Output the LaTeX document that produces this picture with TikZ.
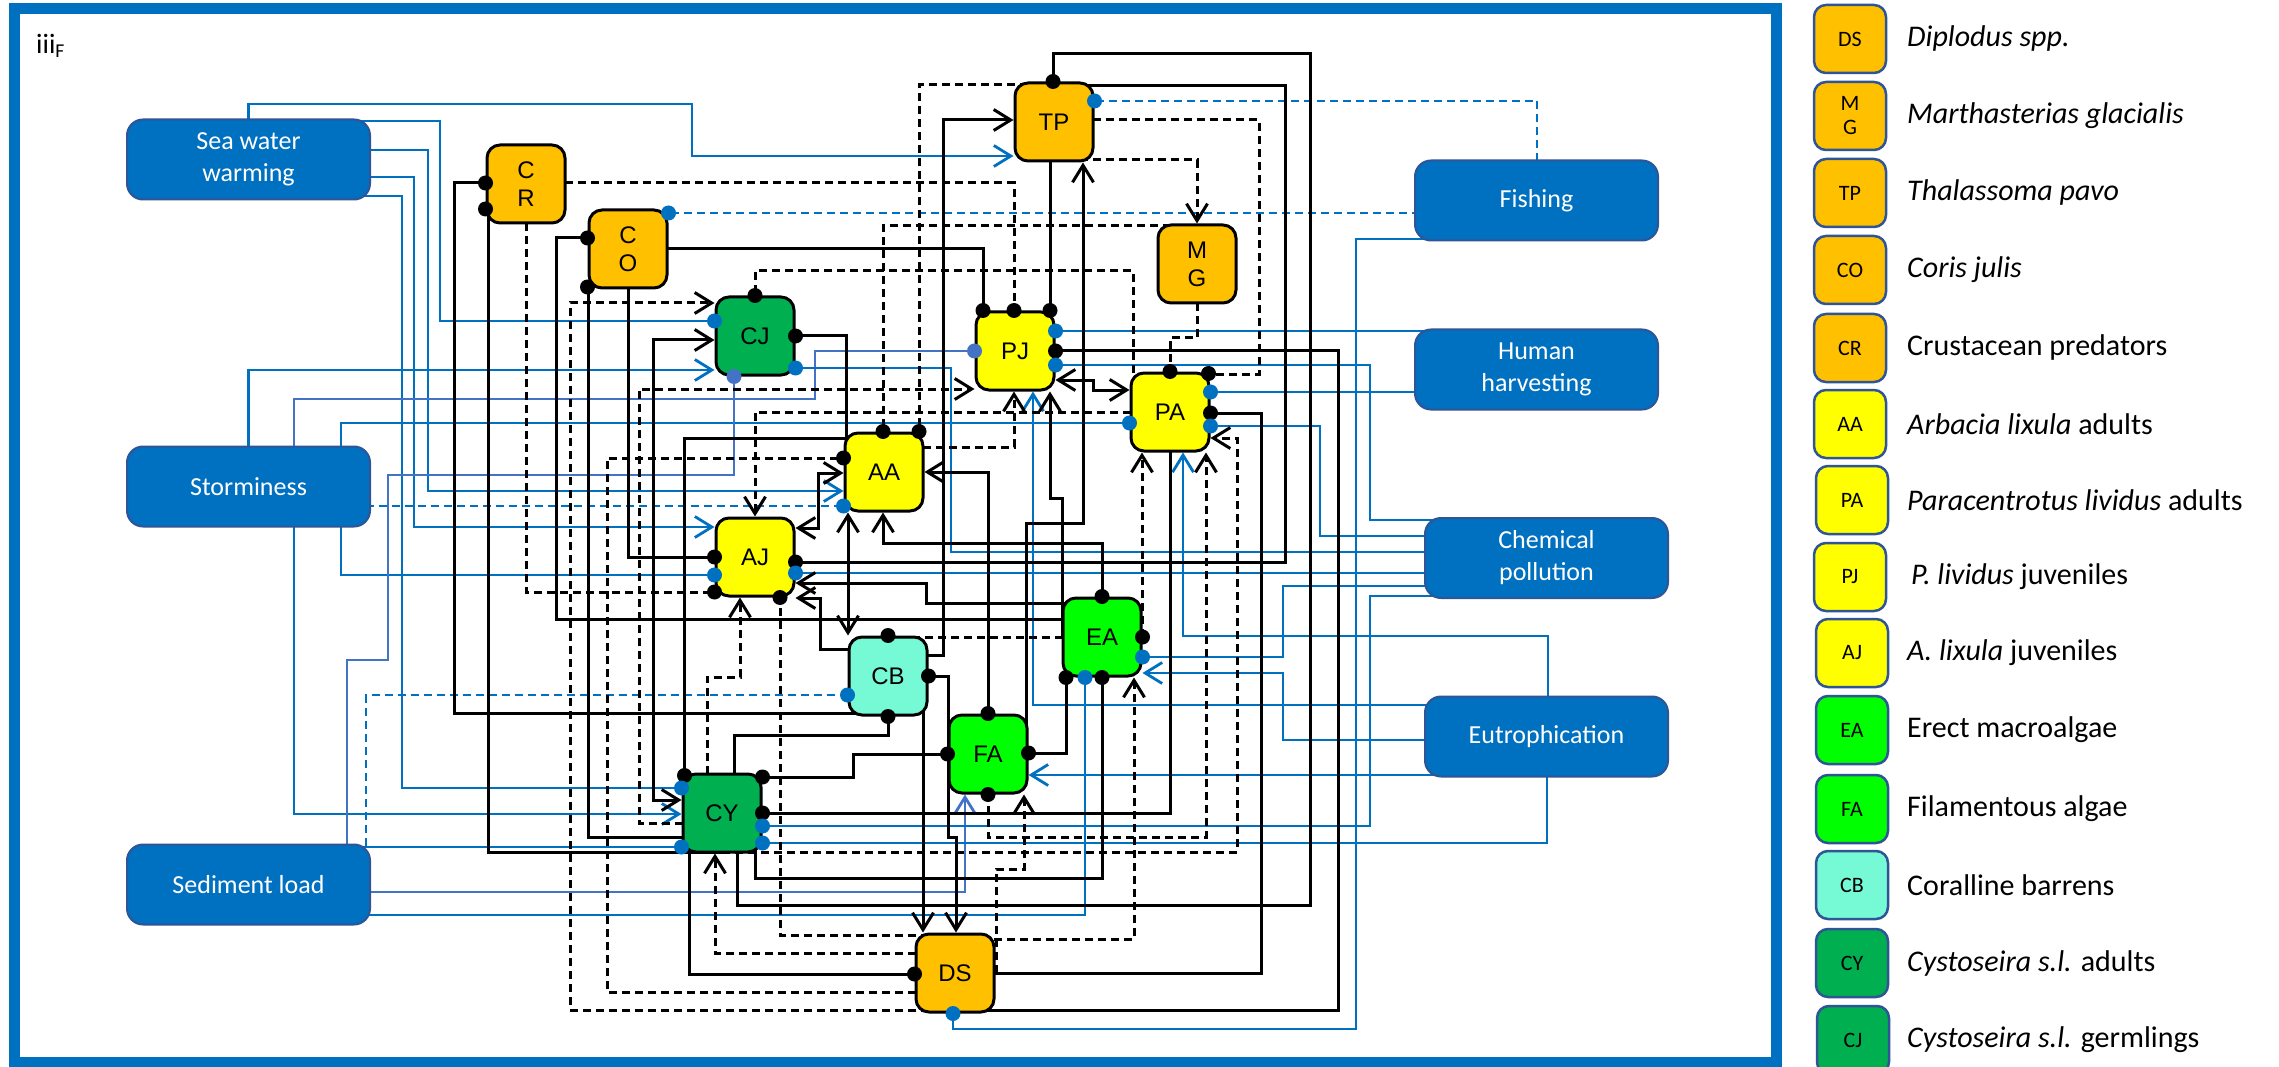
\documentclass[tikz,border=0pt]{standalone}
\usepackage{fontspec}
\setmainfont{Carlito}
\newfontfamily\arialf{Liberation Sans}
\usetikzlibrary{arrows.meta,calc}
\pgfdeclarelayer{back}
\pgfdeclarelayer{bg}
\pgfdeclarelayer{fg}
\pgfsetlayers{back,bg,main,fg}
\definecolor{blue0}{HTML}{0070C0}
\definecolor{lblue}{HTML}{4472C4}
\definecolor{bord}{HTML}{2F5597}
\definecolor{orng}{HTML}{FFC000}
\definecolor{yel}{HTML}{FFFF00}
\definecolor{lgrn}{HTML}{00FF00}
\definecolor{dgrn}{HTML}{00B050}
\definecolor{aqua}{HTML}{75FAD5}
\tikzset{
  sp/.style={draw=black, line width=3pt, rounded corners=13pt, minimum width=78pt,
    minimum height=78pt, inner sep=0pt, align=center, font=\arialf\fontsize{24}{28}\selectfont},
  drv/.style={draw=bord, fill=blue0, line width=2pt, rounded corners=16pt, minimum width=243pt,
    minimum height=80pt, align=center, text=white, font=\fontsize{26}{32}\selectfont},
  key/.style={draw=bord, line width=2.5pt, rounded corners=12pt, minimum width=72pt,
    minimum height=68pt, inner sep=0pt, align=center, font=\fontsize{22}{25}\selectfont},
  keytxt/.style={anchor=west, inner sep=0pt, font=\fontsize{30}{35}\selectfont},
  ln/.style={draw=black, line width=3pt},
  dl/.style={ln, dash pattern=on 8pt off 5pt},
  bl/.style={draw=blue0, line width=2.8pt},
  bd/.style={bl, dash pattern=on 8pt off 5pt},
  lb/.style={draw=lblue, line width=2.8pt},
  arr/.style={-{Straight Barb[length=17pt,width=21pt]}},
  arr2/.style={{Straight Barb[length=17pt,width=21pt]}-{Straight Barb[length=17pt,width=21pt]}},
}
\newcommand\kd[1]{\fill[black] #1 circle[radius=7.5pt];}
\newcommand\bdt[1]{\fill[blue0] #1 circle[radius=7.5pt];}
\newcommand\ldt[1]{\fill[lblue] #1 circle[radius=7.5pt];}
\begin{document}
\begin{tikzpicture}[x=1pt,y=-1pt]
\useasboundingbox (0,0) rectangle (2279,1067);
\begin{pgfonlayer}{back}
\fill[white] (0,0) rectangle (2279,1067);
\end{pgfonlayer}
% panel frame
\draw[blue0, line width=11pt] (14,8.5) rectangle (1776,1062);
\node[anchor=west, inner sep=0pt, font=\fontsize{28}{32}\selectfont] (lab) at (36,46) {iii\textsubscript{F}};

% species
\node[sp, fill=orng] (CR) at (526,184) {C\\R};
\node[sp, fill=orng] (CO) at (628,249) {C\\O};
\node[sp, fill=orng] (TP) at (1054,122) {TP};
\node[sp, fill=orng] (MG) at (1197,264) {M\\G};
\node[sp, fill=dgrn] (CJ) at (755,336) {CJ};
\node[sp, fill=yel] (PJ) at (1015,351) {PJ};
\node[sp, fill=yel] (PA) at (1170,412) {PA};
\node[sp, fill=yel] (AA) at (884,472) {AA};
\node[sp, fill=yel] (AJ) at (755,557) {AJ};
\node[sp, fill=lgrn] (EA) at (1102,637) {EA};
\node[sp, fill=aqua] (CB) at (888,676) {CB};
\node[sp, fill=lgrn] (FA) at (988,754) {FA};
\node[sp, fill=dgrn] (CY) at (722,813) {CY};
\node[sp, fill=orng] (DS) at (955,973) {DS};

% pressures
\node[drv] (SWW) at (248.5,159.5) {Sea water\\warming};
\node[drv] (ST) at (248.5,486.5) {Storminess};
\node[drv] (SL) at (248.5,884.5) {Sediment load};
\node[drv] (FI) at (1536.5,200.5) {Fishing};
\node[drv] (HH) at (1536.5,369.5) {Human\\harvesting};
\node[drv] (CP) at (1546.5,558) {Chemical\\pollution};
\node[drv] (EU) at (1546.5,736.5) {Eutrophication};

\begin{pgfonlayer}{bg}
% pressure links
\draw[bl,arr] (SWW.center) |- (692,104) |- (TP.west |- 0,156);
\draw[bl] (SWW.center |- 0,121) -| (440,321) -- (CJ.center |- 0,321);
\draw[bl,arr] (SWW.center |- 0,150) -| (428,491) -- (AA.west |- 0,491);
\draw[bl,arr] (SWW.center |- 0,177) -| (414,527) -- (AJ.west |- 0,527);
\draw[bl] (SWW.center |- 0,196) -| (402,788) -- (CY.center |- 0,788);
\draw[bl,arr] (ST.center) |- (CJ.west |- 0,370);
\draw[lb] (ST.center -| 294,0) |- (815,399) |- (PJ.center |- 0,351);
\draw[bl] (ST.center -| 341,0) |- (PA.center |- 0,423);
\draw[bd] (ST.center |- 0,506) -- (AA.center |- 0,506);
\draw[bl,arr] (ST.center -| 294,0) |- (CY.west |- 0,814);
\draw[bl] (ST.center -| 341,0) |- (AJ.center |- 0,575);
\draw[lb] (SL.center -| 347,0) |- (388,660) |- (734,475) -- (CJ.center -| 734,0);
\draw[bd] (SL.center -| 366,0) |- (CB.center |- 0,695);
\draw[bl] (SL.center |- 0,847) -- (CY.center |- 0,847);
\draw[lb,arr] (SL.center |- 0,892) -| (FA.south -| 965,0);
\draw[bl] (SL.center |- 0,915) -| (EA.center -| 1085,0);
\draw[bd] (FI.center -| 1537,0) |- (TP.center |- 0,101);
\draw[bd] (FI.center |- 0,213) -- (CO.center |- 0,213);
\draw[bl] (FI.center |- 0,239) -| (1356,1029) -| (DS.center -| 953,0);
\draw[bl] (HH.center |- 0,331) -- (PJ.center |- 0,331);
\draw[bl] (HH.center |- 0,392) -- (PA.center |- 0,392);
\draw[bl] (CP.center |- 0,520) -| (1370,365) -- (PJ.center |- 0,365);
\draw[bl] (CP.center |- 0,536) -| (1320,426) -- (PA.center |- 0,426);
\draw[bl] (CP.center |- 0,552) -| (951,368) -- (CJ.center |- 0,368);
\draw[bl] (CP.center |- 0,573) -- (AJ.center |- 0,573);
\draw[bl] (CP.center |- 0,586) -| (1283,657) -- (EA.center |- 0,657);
\draw[bl] (CP.center |- 0,596) -| (1370,826) -- (CY.center |- 0,826);
\draw[bl,arr] (EU.center -| 1548,0) |- (1183,636) -- (PA.south -| 1183,0);
\draw[bl,arr] (EU.center |- 0,705) -| (PJ.south -| 1033,0);
\draw[bl,arr] (EU.center |- 0,740) -| (1283,673) -- (EA.east |- 0,673);
\draw[bl,arr] (EU.center |- 0,775) -- (FA.east |- 0,775);
\draw[bl] (EU.center -| 1547,0) |- (CY.center |- 0,843);

% interactions between components
\draw[ln] (CR.center |- 0,183) -| (454,713) -- (CB.center |- 0,713);
\draw[ln] (CR.center |- 0,209) -| (488,852) -- (CY.center |- 0,852);
\draw[dl] (CR.center |- 0,183) -| (PJ.center -| 1014,0);
\draw[dl] (CR.center) |- (AJ.center |- 0,592);
\draw[ln] (CO.center |- 0,238) -| (556,619) -- (EA.center |- 0,619);
\draw[ln] (CO.center |- 0,287) -| (588,837) -- (CY.center |- 0,837);
\draw[ln] (CO.center |- 0,249) -| (PJ.center -| 983,0);
\draw[ln] (CO.center) |- (AJ.center |- 0,557);
\draw[dl,arr] (DS.center |- 0,1010) -| (570,303) -- (CJ.west |- 0,303);
\draw[ln,arr2] (CY.west |- 0,800) -| (653,340) -- (CJ.west |- 0,340);
\draw[dl,arr] (CY.center |- 0,823) -| (639,389) -- (PJ.west |- 0,389);
\draw[dl] (PA.center -| 1133,0) |- (755,271) -- (CJ.center);
\draw[dl,arr] (PA.center |- 0,412) -| (AJ.north);
\draw[dl] (DS.center |- 0,992) -| (607,458) -- (AA.center |- 0,458);
\draw[ln] (AA.center |- 0,438) -| (CY.center -| 684,0);
\draw[ln] (CJ.center |- 0,336) -| (AA.center -| 846,0);
\draw[ln,arr2] (AA.south -| 848,0) -- (CB.north -| 848,0);
\draw[ln,arr2] (AA.west |- 0,473) -| (818,528) -- (AJ.east |- 0,528);
\draw[dl,arr] (AA.center |- 0,447) -| (PJ.south -| 1014,0);
\draw[ln,arr] (FA.center) |- (AA.east |- 0,472);
\draw[ln,arr] (EA.center) |- (883,543) -- (AA.south -| 883,0);
\draw[dl] (MG.center |- 0,226) -| (AA.center -| 883,0);
\draw[dl] (TP.center |- 0,85) -| (AA.center -| 919,0);
\draw[ln] (TP.center -| 1050,0) -- (PJ.center -| 1050,0);
\draw[ln] (CY.center -| 737,0) |- (1310,905) |- (1053,54) -- (TP.center -| 1053,0);
\draw[ln] (TP.center |- 0,86) -| (1285,562) -- (AJ.center |- 0,562);
\draw[dl] (TP.center |- 0,120) -| (1259,374) -- (PA.center |- 0,374);
\draw[dl,arr] (TP.center |- 0,160) -| (MG.north);
\draw[ln,arr] (FA.center -| 1026,0) |- (1083,523) -- (TP.south -| 1083,0);
\draw[ln,arr] (CB.center |- 0,655) -| (943,120) -- (TP.west |- 0,120);
\draw[ln] (DS.center |- 0,1010) -| (1338,351) -- (PJ.center |- 0,351);
\draw[ln,arr2] (PJ.east |- 0,380) -| (1093,390) -- (PA.west |- 0,390);
\draw[ln,arr] (EA.center -| 1062,0) |- (1050,498) -- (PJ.south -| 1050,0);
\draw[ln] (DS.center |- 0,973) -| (1261,413) -- (PA.center |- 0,413);
\draw[dl] (MG.center) |- (1170,338) -- (PA.center);
\draw[dl,arr] (CY.center |- 0,852) -| (1237,438) -- (PA.east |- 0,438);
\draw[dl,arr] (EA.center -| 1142,0) -- (PA.south -| 1142,0);
\draw[dl,arr] (FA.center) |- (1206,837) -- (PA.south -| 1206,0);
\draw[ln] (PA.center) |- (CY.center |- 0,813);
\draw[ln,arr] (EA.center |- 0,603) -| (926,583) -- (AJ.east |- 0,583);
\draw[ln,arr] (CB.center |- 0,649) -| (820,598) -- (AJ.east |- 0,598);
\draw[dl,arr] (CY.center -| 707,0) |- (740,677) -- (AJ.south -| 740,0);
\draw[dl] (DS.center |- 0,935) -| (AJ.center -| 780,0);
\draw[dl] (EA.center |- 0,637) -| (CB.center);
\draw[ln,arr] (CB.center -| 923,0) -- (DS.north -| 923,0);
\draw[ln,arr] (CB.center |- 0,676) -| (948,837) -| (DS.north -| 956,0);
\draw[ln] (CY.center -| 734,0) |- (888,735) -- (CB.center);
\draw[ln] (FA.center |- 0,754) -| (853,777) -- (CY.center |- 0,777);
\draw[ln] (FA.center |- 0,753) -| (EA.center -| 1066,0);
\draw[ln] (CY.center -| 755,0) |- (1102,878) -- (EA.center);
\draw[dl,arr] (DS.center |- 0,939) -| (EA.south -| 1134,0);
\draw[dl,arr] (DS.center -| 996,0) |- (1024,869) -- (FA.south -| 1024,0);
\draw[ln] (CY.center -| 689,0) |- (DS.center |- 0,974);
\draw[dl,arr] (DS.center |- 0,953) -| (CY.south -| 715,0);
\end{pgfonlayer}

\begin{pgfonlayer}{fg}
% negative-effect ends
\kd{(CR.west |- 0,183)} \kd{(CR.west |- 0,209)}
\kd{(CO.west |- 0,238)} \kd{(CO.west |- 0,287)}
\kd{(PJ.north -| 983,0)} \kd{(PJ.north -| 1014,0)} \kd{(PJ.north -| 1050,0)}
\kd{(PJ.east |- 0,351)}
\kd{(AJ.west |- 0,557)} \kd{(AJ.west |- 0,592)} \kd{(AJ.east |- 0,562)} \kd{(AJ.south -| 780,0)}
\kd{(CJ.north)} \kd{(CJ.east |- 0,336)}
\kd{(AA.west |- 0,458)} \kd{(AA.north -| 883,0)} \kd{(AA.north -| 919,0)}
\kd{($(CY.north west)+(3,3)$)} \kd{(CY.east |- 0,777)} \kd{(CY.east |- 0,813)}
\kd{(TP.north -| 1053,0)}
\kd{(PA.north)} \kd{($(PA.north east)+(-2,2)$)} \kd{(PA.east |- 0,413)}
\kd{(EA.north)} \kd{(EA.east)} \kd{(EA.south -| 1066,0)} \kd{(EA.south)}
\kd{(FA.north)} \kd{(FA.west |- 0,754)} \kd{(FA.east |- 0,753)} \kd{(FA.south)}
\kd{(CB.north)} \kd{(CB.east |- 0,676)} \kd{(CB.south)}
\kd{(DS.west |- 0,974)}
\bdt{(CJ.west |- 0,321)} \ldt{(CJ.south -| 734,0)} \bdt{(CJ.east |- 0,368)}
\ldt{(PJ.west |- 0,351)} \bdt{(PJ.east |- 0,331)} \bdt{(PJ.east |- 0,365)}
\bdt{(PA.west |- 0,423)} \bdt{(PA.east |- 0,392)} \bdt{(PA.east |- 0,426)}
\bdt{(AA.west |- 0,506)}
\bdt{(AJ.west |- 0,575)} \bdt{(AJ.east |- 0,573)}
\bdt{(CY.west |- 0,788)} \bdt{(CY.west |- 0,847)} \bdt{(CY.east |- 0,826)} \bdt{(CY.east |- 0,843)}
\bdt{(CB.west |- 0,695)} \bdt{(EA.east |- 0,657)} \bdt{(EA.south -| 1085,0)}
\bdt{(TP.east |- 0,101)} \bdt{(CO.east |- 0,213)} \bdt{(DS.south -| 953,0)}
\end{pgfonlayer}

% key
\node[key, fill=orng] (kDS) at (1850,39) {DS};
\node[keytxt] (tDS) at (1907,39) {\textit{Diplodus spp.}};
\node[key, fill=orng, font=\fontsize{22}{24}\selectfont] (kMG) at (1850,116) {M\\G};
\node[keytxt] (tMG) at (1907,116) {\textit{Marthasterias glacialis}};
\node[key, fill=orng] (kTP) at (1850,193) {TP};
\node[keytxt] (tTP) at (1907,193) {\textit{Thalassoma pavo}};
\node[key, fill=orng] (kCO) at (1850,270) {CO};
\node[keytxt] (tCO) at (1907,270) {\textit{Coris julis}};
\node[key, fill=orng] (kCR) at (1850,348) {CR};
\node[keytxt] (tCR) at (1907,348) {Crustacean predators};
\node[key, fill=yel] (kAA) at (1850,424) {AA};
\node[keytxt] (tAA) at (1907,424) {\textit{Arbacia lixula} adults};
\node[key, fill=yel] (kPA) at (1852,500) {PA};
\node[keytxt] (tPA) at (1907,500) {\textit{Paracentrotus lividus} adults};
\node[key, fill=yel] (kPJ) at (1850,577) {PJ};
\node[keytxt] (tPJ) at (1911,577) {\textit{P. lividus} juveniles};
\node[key, fill=yel] (kAJ) at (1852,653) {AJ};
\node[keytxt] (tAJ) at (1907,653) {\textit{A. lixula} juveniles};
\node[key, fill=lgrn] (kEA) at (1852,730) {EA};
\node[keytxt] (tEA) at (1907,730) {Erect macroalgae};
\node[key, fill=lgrn] (kFA) at (1852,809) {FA};
\node[keytxt] (tFA) at (1907,809) {Filamentous algae};
\node[key, fill=aqua] (kCB) at (1852,885) {CB};
\node[keytxt] (tCB) at (1907,885) {Coralline barrens};
\node[key, fill=dgrn] (kCY) at (1852,963) {CY};
\node[keytxt] (tCY) at (1907,963) {\textit{Cystoseira s.l.} adults};
\node[key, fill=dgrn] (kCJ) at (1853,1040) {CJ};
\node[keytxt] (tCJ) at (1907,1040) {\textit{Cystoseira s.l.} germlings};
\end{tikzpicture}
\end{document}
